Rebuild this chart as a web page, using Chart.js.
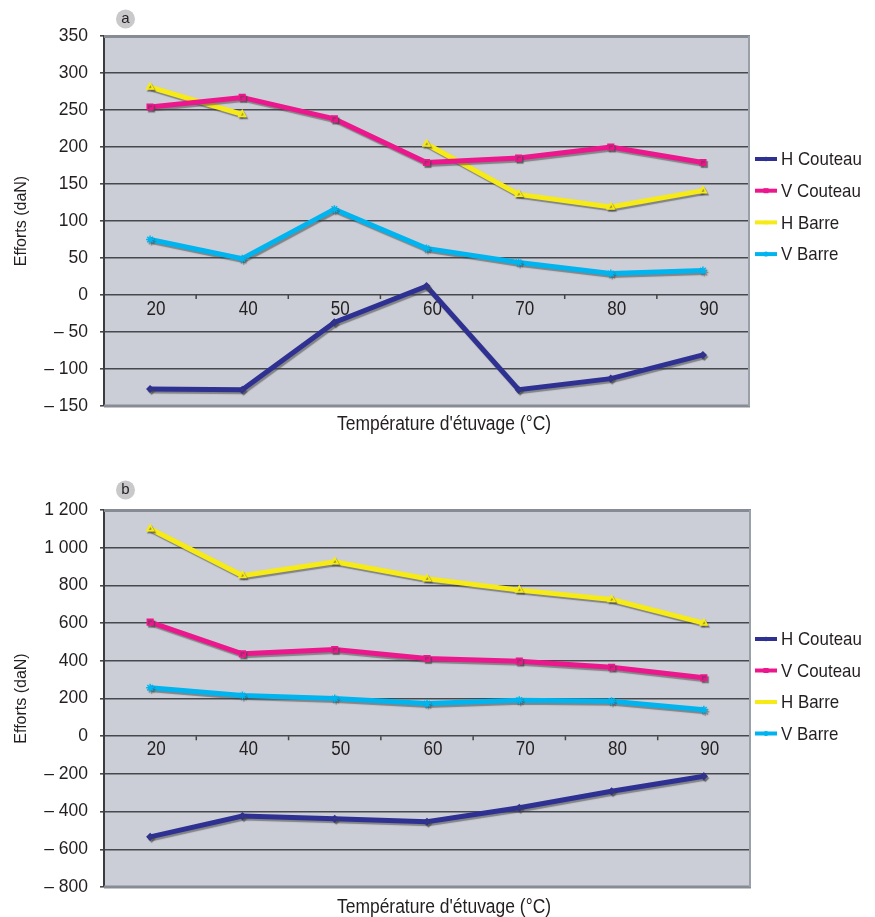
<!DOCTYPE html>
<html>
<head>
<meta charset="utf-8">
<script src="https://cdn.jsdelivr.net/npm/chart.js@4/dist/chart.umd.min.js"></script>
<style>
  html, body { margin: 0; padding: 0; background: #ffffff; }
  #wrap { position: relative; width: 875px; height: 917px; }
  .panel { position: absolute; left: 0; width: 875px; }
</style>
</head>
<body>
<div id="wrap">
  <div class="panel" style="top:0;height:458px"><canvas id="chartA" width="875" height="458"></canvas></div>
  <div class="panel" style="top:458px;height:459px"><canvas id="chartB" width="875" height="459"></canvas></div>
</div>
<script>
// Oven temperatures (°C)
const categories = ['20', '40', '50', '60', '70', '80', '90'];
const seriesNames = ['H Couteau', 'V Couteau', 'H Barre', 'V Barre'];

// Panel a: forces (daN)
const hCouteauA = [-127, -128, -37, 12, -128, -113, -81];
const vCouteauA = [254, 267, 238, 179, 185, 200, 179];
const hBarreA   = [281, 244, null, 204, 136, 119, 141];
const vBarreA   = [75, 49, 116, 63, 44, 29, 33];
const yTicksA   = ['– 150', '– 100', '– 50', '0', '50', '100', '150', '200', '250', '300', '350'];

// Panel b: forces (daN)
const hCouteauB = [-534, -424, -438, -454, -380, -292, -212];
const vCouteauB = [605, 437, 460, 412, 398, 366, 310];
const hBarreB   = [1100, 852, 925, 835, 775, 725, 600];
const vBarreB   = [257, 216, 200, 173, 191, 186, 140];
const yTicksB   = ['– 800', '– 600', '– 400', '– 200', '0', '200', '400', '600', '800', '1 000', '1 200'];

const COLORS = ['#2e3192', '#ec178c', '#f6ea17', '#00b5ef'];
const MARKERS = ['rectRot', 'rect', 'triangle', 'star'];
const MARKER_R = [3, 4, 4, 4];
const TEXT = '#231f20';
const SANS = '"Liberation Sans", Arial, sans-serif';

// Text squeezed horizontally to give a condensed face
function fillCondensed(ctx, text, x, y, sx) {
  ctx.save();
  ctx.translate(x, y);
  ctx.scale(sx, 1);
  ctx.fillText(text, 0, 0);
  ctx.restore();
}

function drawMarker(ctx, style, x, y, r, color) {
  ctx.save();
  ctx.fillStyle = color;
  ctx.strokeStyle = color;
  ctx.lineWidth = 1.5;
  ctx.beginPath();
  if (style === 'rectRot') {
    ctx.moveTo(x, y - r); ctx.lineTo(x + r, y); ctx.lineTo(x, y + r); ctx.lineTo(x - r, y); ctx.closePath(); ctx.fill();
  } else if (style === 'rect') {
    ctx.rect(x - r, y - r, 2 * r, 2 * r); ctx.fill();
  } else if (style === 'triangle') {
    ctx.moveTo(x, y - r); ctx.lineTo(x + r, y + r * 0.7); ctx.lineTo(x - r, y + r * 0.7); ctx.closePath(); ctx.fill();
  } else {
    ctx.moveTo(x - r, y); ctx.lineTo(x + r, y); ctx.moveTo(x, y - r); ctx.lineTo(x, y + r);
    ctx.moveTo(x - r * 0.7, y - r * 0.7); ctx.lineTo(x + r * 0.7, y + r * 0.7);
    ctx.moveTo(x + r * 0.7, y - r * 0.7); ctx.lineTo(x - r * 0.7, y + r * 0.7);
    ctx.stroke();
  }
  ctx.restore();
}

// Plot frame, category labels on the zero line, shadows, legend, axis title, panel letter
const panelDecor = {
  id: 'panelDecor',
  beforeDraw(chart) {
    const { ctx, chartArea: a } = chart;
    ctx.save();
    ctx.fillStyle = '#cbced6';
    ctx.fillRect(a.left, a.top, a.right - a.left, a.bottom - a.top);
    ctx.restore();
  },
  beforeDatasetsDraw(chart, args, o) {
    const { ctx, chartArea: a, scales: { x, y } } = chart;
    ctx.save();
    // frame: top, right, bottom
    ctx.strokeStyle = '#878c94';
    ctx.lineWidth = 3;
    ctx.beginPath();
    ctx.moveTo(a.left, a.top + 0.5); ctx.lineTo(a.right + 1, a.top + 0.5);
    ctx.moveTo(a.left, a.bottom); ctx.lineTo(a.right + 1, a.bottom);
    ctx.stroke();
    ctx.strokeStyle = '#9aa0a8';
    ctx.lineWidth = 2;
    ctx.beginPath();
    ctx.moveTo(a.right, a.top); ctx.lineTo(a.right, a.bottom);
    ctx.stroke();
    // small marks at category boundaries on the zero line
    const zeroY = y.getPixelForValue(0);
    ctx.strokeStyle = '#444';
    ctx.lineWidth = 1.5;
    ctx.beginPath();
    for (let i = 0; i < categories.length - 1; i++) {
      const bx = (x.getPixelForValue(i) + x.getPixelForValue(i + 1)) / 2;
      ctx.moveTo(bx, zeroY); ctx.lineTo(bx, zeroY + 4);
    }
    ctx.stroke();
    // category labels under the zero line
    ctx.fillStyle = TEXT;
    ctx.font = '19.5px ' + SANS;
    ctx.textAlign = 'center';
    ctx.textBaseline = 'middle';
    categories.forEach((c, i) => {
      fillCondensed(ctx, c, x.getPixelForValue(i) + 6, zeroY + o.labelGap, 0.875);
    });
    ctx.restore();
  },
  beforeDatasetDraw(chart) {
    const ctx = chart.ctx;
    ctx.shadowColor = 'rgba(70,70,70,0.55)';
    ctx.shadowOffsetX = 1.5;
    ctx.shadowOffsetY = 2;
    ctx.shadowBlur = 1;
  },
  afterDatasetDraw(chart) {
    const ctx = chart.ctx;
    ctx.shadowColor = 'rgba(0,0,0,0)';
    ctx.shadowOffsetX = 0;
    ctx.shadowOffsetY = 0;
    ctx.shadowBlur = 0;
  },
  afterDraw(chart, args, o) {
    const { ctx } = chart;
    ctx.save();
    // legend
    ctx.font = '19px ' + SANS;
    ctx.textAlign = 'left';
    ctx.textBaseline = 'middle';
    chart.data.datasets.forEach((ds, i) => {
      const ly = o.legendTop + i * o.legendStep;
      ctx.strokeStyle = ds.borderColor;
      ctx.lineWidth = 4;
      ctx.beginPath();
      ctx.moveTo(755, ly); ctx.lineTo(777, ly);
      ctx.stroke();
      drawMarker(ctx, MARKERS[i], 766, ly, 2.5, ds.borderColor);
      ctx.fillStyle = TEXT;
      fillCondensed(ctx, ds.label, 781, ly + 1, 0.89);
    });
    // x axis title
    ctx.font = '20px ' + SANS;
    ctx.textAlign = 'center';
    ctx.fillStyle = TEXT;
    fillCondensed(ctx, "Température d'étuvage (°C)", o.titleX, o.titleY, 0.873);
    // panel letter
    ctx.fillStyle = '#c9c9cb';
    ctx.beginPath();
    ctx.arc(125.5, o.letterY, 9.5, 0, Math.PI * 2);
    ctx.fill();
    ctx.fillStyle = TEXT;
    ctx.font = '15px ' + SANS;
    ctx.fillText(o.letter, 125.5, o.letterY);
    ctx.restore();
  }
};

function makeChart(id, values, yMin, yMax, yStep, yLabels, pad, deco) {
  const datasets = values.map((v, i) => ({
    label: seriesNames[i],
    data: v,
    borderColor: COLORS[i],
    backgroundColor: COLORS[i],
    borderWidth: 5,
    tension: 0,
    spanGaps: false,
    pointStyle: MARKERS[i],
    pointRadius: MARKER_R[i],
    pointBorderWidth: 1.5,
    pointHoverRadius: MARKER_R[i]
  }));
  return new Chart(document.getElementById(id), {
    type: 'line',
    data: { labels: categories, datasets },
    options: {
      responsive: false,
      animation: false,
      devicePixelRatio: 1,
      layout: { padding: pad },
      plugins: {
        legend: { display: false },
        tooltip: { enabled: false },
        panelDecor: deco
      },
      scales: {
        x: { display: false, offset: true },
        y: {
          min: yMin, max: yMax,
          afterFit(s) { s.width = 104; },
          ticks: {
            stepSize: yStep,
            padding: 12,
            color: TEXT,
            font: { family: SANS, size: 17.5 },
            callback: (v, i) => yLabels[i]
          },
          grid: {
            color: ctx => (ctx.tick && (ctx.tick.value === yMin || ctx.tick.value === yMax)) ? 'rgba(0,0,0,0)' : '#46484c',
            tickColor: '#46484c',
            lineWidth: 1.6,
            tickLength: 4,
            drawTicks: true
          },
          border: { color: '#3a3c40', width: 2 },
          title: {
            display: true,
            text: 'Efforts (daN)',
            color: TEXT,
            font: { family: SANS, size: 16 },
            padding: { top: 12, bottom: 0 }
          }
        }
      }
    },
    plugins: [panelDecor]
  });
}

makeChart('chartA', [hCouteauA, vCouteauA, hBarreA, vBarreA], -150, 350, 50, yTicksA,
  { left: 0, top: 36, right: 126, bottom: 52 },
  { letter: 'a', letterY: 19, legendTop: 159, legendStep: 31.7, titleX: 444, titleY: 424, labelGap: 15 });

makeChart('chartB', [hCouteauB, vCouteauB, hBarreB, vBarreB], -800, 1200, 200, yTicksB,
  { left: 0, top: 52, right: 125, bottom: 30 },
  { letter: 'b', letterY: 32, legendTop: 181, legendStep: 31.5, titleX: 444, titleY: 449, labelGap: 13 });
</script>
</body>
</html>
